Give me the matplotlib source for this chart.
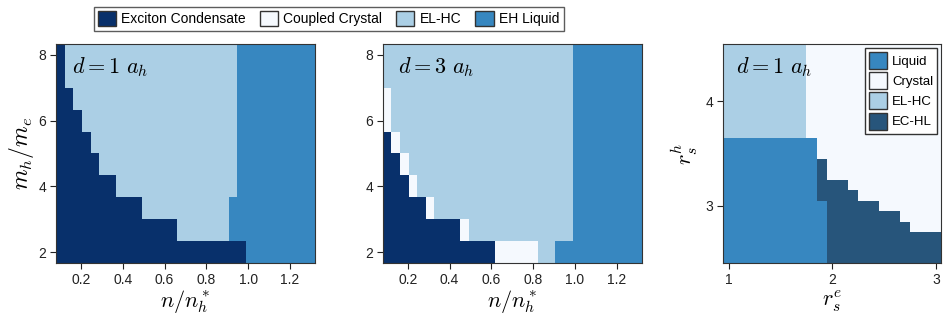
import numpy as np
import matplotlib
matplotlib.use("Agg")
import matplotlib.pyplot as plt
from matplotlib.colors import ListedColormap
from matplotlib.patches import Patch

plt.rcParams["font.family"] = ["Liberation Sans", "DejaVu Sans"]
plt.rcParams["mathtext.fontset"] = "cm"

# phase diagrams, rows listed from top (largest y) to bottom
# C = exciton condensate, X = coupled crystal, H = EL-HC, L = EH liquid
density = np.linspace(0.1, 1.3, 30)
mass_ratio = np.linspace(2, 8, 10)

phases_d1 = [
    "C" + "H" * 20 + "L" * 9,
    "C" + "H" * 20 + "L" * 9,
    "C" * 2 + "H" * 19 + "L" * 9,
    "C" * 3 + "H" * 18 + "L" * 9,
    "C" * 4 + "H" * 17 + "L" * 9,
    "C" * 5 + "H" * 16 + "L" * 9,
    "C" * 7 + "H" * 14 + "L" * 9,
    "C" * 10 + "H" * 10 + "L" * 10,
    "C" * 14 + "H" * 6 + "L" * 10,
    "C" * 22 + "L" * 8,
]

phases_d3 = [
    "H" * 22 + "L" * 8,
    "H" * 22 + "L" * 8,
    "X" + "H" * 21 + "L" * 8,
    "X" + "H" * 21 + "L" * 8,
    "C" + "X" + "H" * 20 + "L" * 8,
    "C" * 2 + "X" + "H" * 19 + "L" * 8,
    "C" * 3 + "X" + "H" * 18 + "L" * 8,
    "C" * 5 + "X" + "H" * 16 + "L" * 8,
    "C" * 9 + "X" + "H" * 12 + "L" * 8,
    "C" * 13 + "X" * 5 + "H" * 2 + "L" * 10,
]

# right panel: rs_e vs rs_h, E = EC-HL
rs_e = np.linspace(1.0, 3.0, 21)
rs_h = np.linspace(2.5, 4.5, 21)
phases_rs = (
    ["H" * 8 + "X" * 13] * 9
    + ["L" * 9 + "X" * 12] * 2
    + ["L" * 9 + "E" + "X" * 11] * 2
    + ["L" * 9 + "E" * 3 + "X" * 9]
    + ["L" * 9 + "E" * 4 + "X" * 8]
    + ["L" * 10 + "E" * 5 + "X" * 6]
    + ["L" * 10 + "E" * 7 + "X" * 4]
    + ["L" * 10 + "E" * 8 + "X" * 3]
    + ["L" * 10 + "E" * 11] * 3
)

codes = {"C": 0, "X": 1, "H": 2, "L": 3}
codes_rs = {"L": 0, "X": 1, "H": 2, "E": 3}

names = ["Exciton Condensate", "Coupled Crystal", "EL-HC", "EH Liquid"]
names_rs = ["Liquid", "Crystal", "EL-HC", "EC-HL"]

navy, white, light, mid = "#08306b", "#f5f9fe", "#abcfe5", "#3787c0"
ec_hl = "#27557b"
cmap = ListedColormap([navy, white, light, mid])
cmap_rs = ListedColormap([mid, white, light, ec_hl])


def to_grid(rows, table):
    return np.array([[table[c] for c in r] for r in rows[::-1]])


fig = plt.figure(figsize=(9.47, 3.23), dpi=100)
ax1 = fig.add_axes([0.0591, 0.1858, 0.2735, 0.678])
ax2 = fig.add_axes([0.4041, 0.1858, 0.2735, 0.678])
ax3 = fig.add_axes([0.7638, 0.1848, 0.2299, 0.679])

for ax, rows, lab in [(ax1, phases_d1, "1"), (ax2, phases_d3, "3")]:
    ax.pcolormesh(density, mass_ratio, to_grid(rows, codes), cmap=cmap,
                  vmin=-0.5, vmax=3.5, shading="nearest")
    ax.set_xticks([0.2, 0.4, 0.6, 0.8, 1.0, 1.2])
    ax.set_yticks([2, 4, 6, 8])
    ax.set_xlabel(r"$n/n_h^*$", fontsize=16, labelpad=1)
    ax.text(0.06, 0.95, r"$d = %s\ a_h$" % lab, transform=ax.transAxes,
            fontsize=16, va="top", ha="left")
ax1.set_ylabel(r"$m_h/m_e$", fontsize=17, labelpad=2)

ax3.pcolormesh(rs_e, rs_h, to_grid(phases_rs, codes_rs), cmap=cmap_rs,
               vmin=-0.5, vmax=3.5, shading="nearest")
ax3.set_xticks([1, 2, 3])
ax3.set_yticks([3, 4])
ax3.set_xlabel(r"$r_s^e$", fontsize=16, labelpad=1)
ax3.set_ylabel(r"$r_s^h$", fontsize=16, labelpad=4)
ax3.text(0.06, 0.95, r"$d = 1\ a_h$", transform=ax3.transAxes,
         fontsize=16, va="top", ha="left")

for ax in (ax1, ax2, ax3):
    ax.tick_params(direction="out", length=4, width=0.8, labelsize=10,
                   colors="#222222", pad=3)
    for s in ax.spines.values():
        s.set_color("#333333")
        s.set_linewidth(0.8)

handles = [Patch(facecolor=c, edgecolor="#333333", label=n)
           for c, n in zip([navy, white, light, mid], names)]
fig.legend(handles=handles, loc="upper center", bbox_to_anchor=(0.347, 1.0),
           ncol=4, fontsize=10, frameon=True, fancybox=False,
           edgecolor="#333333", handlelength=1.3, handleheight=1.3,
           handletextpad=0.4, columnspacing=1.0, borderpad=0.3)

handles_rs = [Patch(facecolor=c, edgecolor="#333333", label=n)
              for c, n in zip([mid, white, light, ec_hl], names_rs)]
ax3.legend(handles=handles_rs, loc="upper right", fontsize=9.5, frameon=True,
           fancybox=False, edgecolor="#333333", handlelength=1.4,
           handleheight=1.6, handletextpad=0.35, labelspacing=0.25,
           borderpad=0.3, borderaxespad=0.3, framealpha=1)

fig.savefig("out.png", dpi=100)
